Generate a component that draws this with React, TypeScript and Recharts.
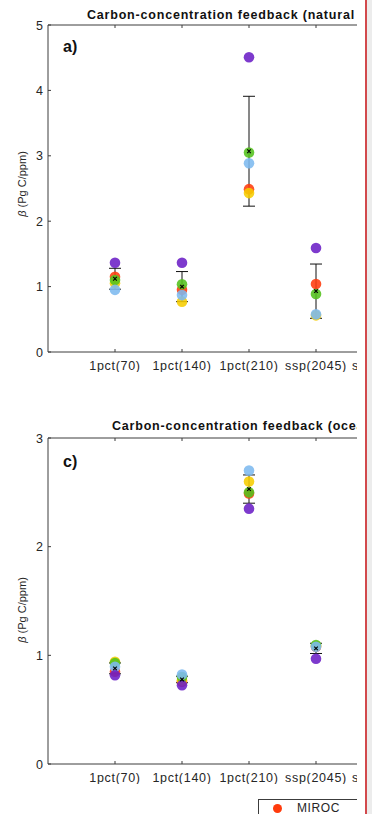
import React from "react";
import { ScatterChart, Scatter, XAxis, YAxis, ErrorBar } from "recharts";

const CATEGORIES = ["1pct(70)", "1pct(140)", "1pct(210)", "ssp(2045)", "ssp(2100)"];
const CAT_POS = [1, 2, 3, 4, 5];

// model order = draw order (later ones sit on top)
const MODELS = ["MIROC", "UKESM1", "CESM2", "ACCESS", "IPSL"];
const MODEL_COLORS = ["#ff3b0c", "#f6cd00", "#53c21c", "#7dbaef", "#6b1fc6"];

// land beta per model, one value per scenario
const LAND_MIROC = [1.15, 0.95, 2.49, 1.04];
const LAND_UKESM = [1.05, 0.77, 2.43, 0.56];
const LAND_CESM = [1.1, 1.035, 3.05, 0.887];
const LAND_ACCESS = [0.95, 0.87, 2.885, 0.576];
const LAND_IPSL = [1.365, 1.365, 4.506, 1.59];
const LAND_MEAN = [1.12, 1.0, 3.07, 0.93];
const LAND_STD = [0.16, 0.23, 0.84, 0.415];

// ocean beta
const OCEAN_MIROC = [0.85, 0.756, 2.49, 1.08];
const OCEAN_UKESM = [0.94, 0.77, 2.6, 1.085];
const OCEAN_CESM = [0.93, 0.8, 2.5, 1.094];
const OCEAN_ACCESS = [0.894, 0.824, 2.7, 1.078];
const OCEAN_IPSL = [0.817, 0.725, 2.35, 0.968];
const OCEAN_MEAN = [0.88, 0.778, 2.53, 1.064];
const OCEAN_STD = [0.05, 0.03, 0.13, 0.047];

const LAND_TICKS = [0, 1, 2, 3, 4, 5];
const OCEAN_TICKS = [0, 1, 2, 3];

const AXIS = "#3c3c3c";
const TXT = "#262626";
const FONT = "'Liberation Sans', Arial, Helvetica, sans-serif";

const toPoints = (vals: number[]) => vals.map((y, i) => ({ x: CAT_POS[i], y }));
const toMean = (mean: number[], std: number[]) =>
  mean.map((y, i) => ({ x: CAT_POS[i], y, err: std[i] }));

function BottomTick(props: any) {
  const { x, y, payload } = props;
  return (
    <g>
      <line x1={x} x2={x} y1={y} y2={y - 3} stroke={AXIS} />
      <text x={x} y={y + 18} textAnchor="middle" fontSize={12.5} fill={TXT}
        fontFamily={FONT} letterSpacing={0.7}>
        {CATEGORIES[payload.value - 1]}
      </text>
    </g>
  );
}

function TopTick(props: any) {
  const { x, y } = props;
  return <line x1={x} x2={x} y1={y} y2={y + 3} stroke={AXIS} />;
}

function LeftTick(props: any) {
  const { x, y, payload } = props;
  return (
    <g>
      <line x1={x} x2={x + 3} y1={y} y2={y} stroke={AXIS} />
      <text x={x - 5} y={y + 4.5} textAnchor="end" fontSize={12.5} fill={TXT} fontFamily={FONT}>
        {payload.value}
      </text>
    </g>
  );
}

const dotShape = (color: string) => (p: any) =>
  <circle cx={p.cx} cy={p.cy} r={5.3} fill={color} fillOpacity={0.88} />;

const meanShape = (p: any) => (
  <path
    d={`M${p.cx - 1.8},${p.cy - 1.8}L${p.cx + 1.8},${p.cy + 1.8}M${p.cx - 1.8},${p.cy + 1.8}L${p.cx + 1.8},${p.cy - 1.8}`}
    stroke="#000" strokeWidth={1.1} />
);

interface PanelProps {
  top: number;
  height: number;
  yMax: number;
  yTicks: number[];
  series: number[][];
  mean: number[];
  std: number[];
}

function Panel({ top, height, yMax, yTicks, series, mean, std }: PanelProps) {
  return (
    <div style={{ position: "absolute", left: 0, top }}>
      <ScatterChart width={450} height={height} margin={{ top: 20, right: 0, bottom: 0, left: 0 }}>
        <XAxis xAxisId="b" type="number" dataKey="x" domain={[0, 6]} ticks={CAT_POS}
          allowDataOverflow height={20} axisLine={{ stroke: AXIS }} tickLine={false}
          tickSize={0} tickMargin={0} tick={<BottomTick />} />
        <XAxis xAxisId="t" orientation="top" type="number" dataKey="x" domain={[0, 6]}
          ticks={CAT_POS} allowDataOverflow height={5} axisLine={{ stroke: AXIS }}
          tickLine={false} tickSize={0} tickMargin={0} tick={<TopTick />} />
        <YAxis type="number" dataKey="y" domain={[0, yMax]} ticks={yTicks} allowDataOverflow
          width={48} axisLine={{ stroke: AXIS }} tickLine={false} tickSize={0} tickMargin={0}
          tick={<LeftTick />} />
        {series.map((vals, i) => (
          <Scatter key={MODELS[i]} name={MODELS[i]} xAxisId="b" data={toPoints(vals)}
            fill={MODEL_COLORS[i]} shape={dotShape(MODEL_COLORS[i])} isAnimationActive={false} />
        ))}
        <Scatter name="mean" xAxisId="b" data={toMean(mean, std)} fill="#000"
          shape={meanShape} isAnimationActive={false}>
          <ErrorBar dataKey="err" direction="y" width={6} stroke="#111" strokeWidth={1} />
        </Scatter>
      </ScatterChart>
    </div>
  );
}

function YLabel({ x, y }: { x: number; y: number }) {
  return (
    <text transform={`translate(${x},${y}) rotate(-90)`} textAnchor="middle" fontSize={11}
      fill={TXT} fontFamily={FONT}>
      <tspan fontStyle="italic">β</tspan> (Pg C/ppm)
    </text>
  );
}

export default function App() {
  return (
    <div style={{ position: "absolute", left: 0, top: 0, width: 372, height: 814,
      background: "#fff", overflow: "hidden" }}>
      <div style={{ position: "absolute", left: 0, top: 0, width: 357, height: 814, overflow: "hidden" }}>
        <Panel top={0} height={372} yMax={5} yTicks={LAND_TICKS}
          series={[LAND_MIROC, LAND_UKESM, LAND_CESM, LAND_ACCESS, LAND_IPSL]}
          mean={LAND_MEAN} std={LAND_STD} />
        <Panel top={413} height={371} yMax={3} yTicks={OCEAN_TICKS}
          series={[OCEAN_MIROC, OCEAN_UKESM, OCEAN_CESM, OCEAN_ACCESS, OCEAN_IPSL]}
          mean={OCEAN_MEAN} std={OCEAN_STD} />
        <svg width={357} height={814} style={{ position: "absolute", left: 0, top: 0, pointerEvents: "none" }}>
          <text x={87} y={19} fontSize={12.5} fontWeight="bold" fill="#111" fontFamily={FONT}
            letterSpacing={0.8}>Carbon-concentration feedback (natural land)</text>
          <text x={112} y={430} fontSize={12.5} fontWeight="bold" fill="#111" fontFamily={FONT}
            letterSpacing={0.8}>Carbon-concentration feedback (ocean)</text>
          <text x={63} y={52} fontSize={16} fontWeight="bold" fill="#111" fontFamily={FONT}>a)</text>
          <text x={63} y={467} fontSize={16} fontWeight="bold" fill="#111" fontFamily={FONT}>c)</text>
          <YLabel x={26} y={184} />
          <YLabel x={26} y={610} />
        </svg>
        <div style={{ position: "absolute", left: 258, top: 799, width: 130, border: `1px solid ${AXIS}`,
          background: "#fff", fontFamily: FONT, fontSize: 12, color: TXT, paddingTop: 1 }}>
          {MODELS.map((m, i) => (
            <div key={m} style={{ display: "flex", alignItems: "center", height: 14 }}>
              <span style={{ display: "inline-block", width: 9, height: 9, borderRadius: "50%",
                background: MODEL_COLORS[i], marginLeft: 14, marginRight: 15 }} />
              <span style={{ letterSpacing: 0.6 }}>{m}</span>
            </div>
          ))}
        </div>
      </div>
      <div style={{ position: "absolute", left: 365, top: 0, width: 1.5, height: 814, background: "#d2494c" }} />
      <div style={{ position: "absolute", left: 367, top: 0, width: 5, height: 814, background: "#ececec" }} />
    </div>
  );
}
